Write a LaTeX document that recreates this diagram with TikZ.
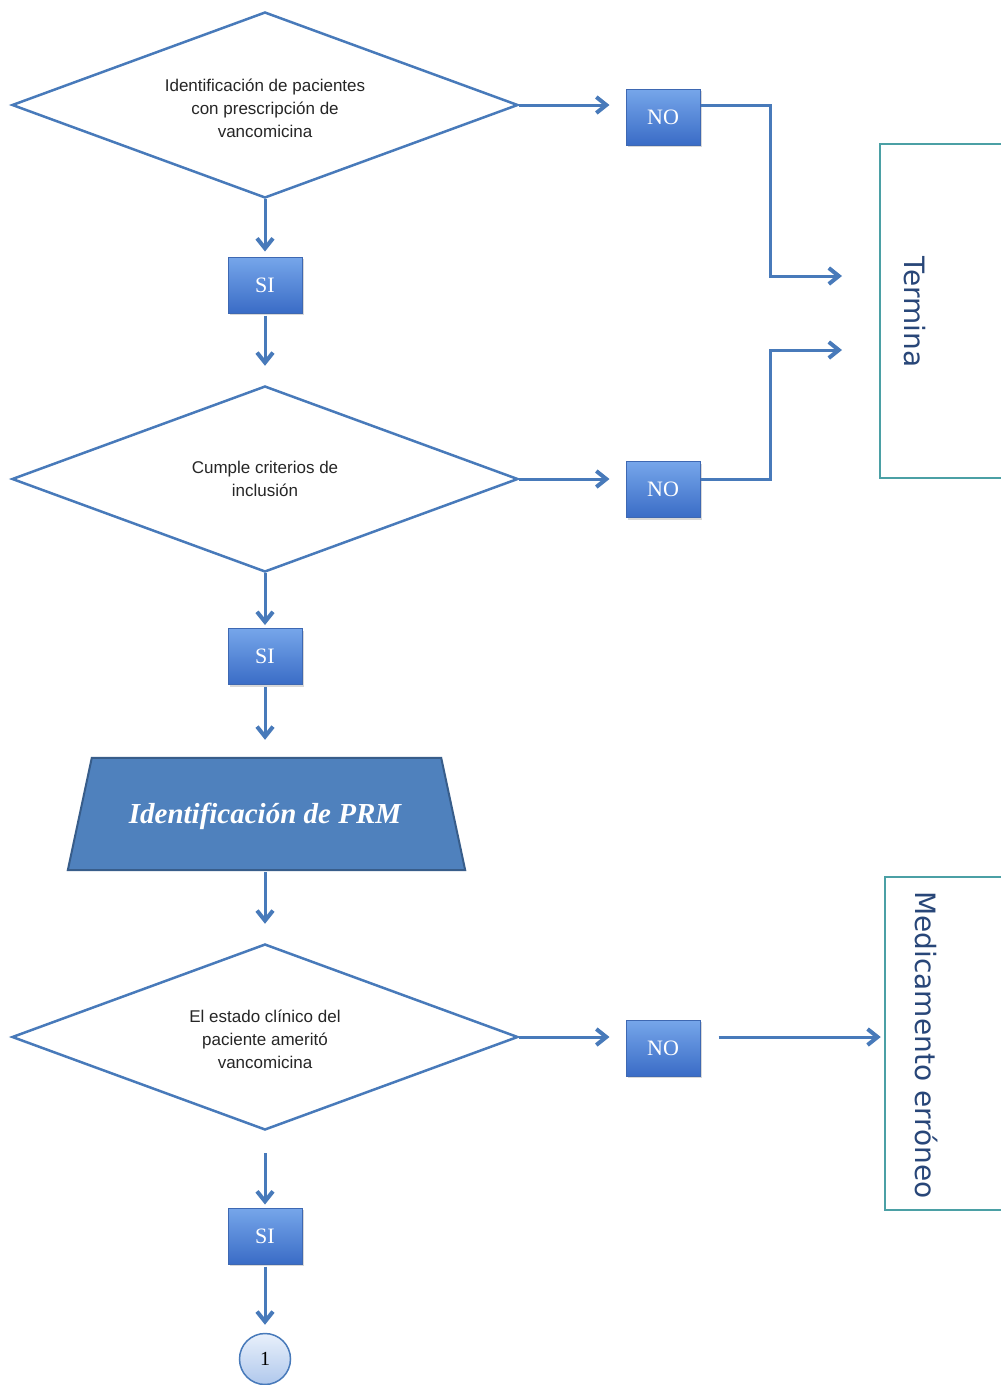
\documentclass[tikz,border=0pt]{standalone}
\usepackage{fontspec}
\setmainfont{Liberation Sans}
\newfontfamily\boxfont{Liberation Serif}
\newfontfamily\endfont{DejaVu Sans}
\usetikzlibrary{shapes.geometric,arrows.meta,shadows}

\definecolor{lineblue}{RGB}{72,122,186}
\definecolor{boxtop}{RGB}{118,166,234}
\definecolor{boxbot}{RGB}{58,108,198}
\definecolor{boxedge}{RGB}{62,104,178}
\definecolor{prmfill}{RGB}{79,129,189}
\definecolor{prmedge}{RGB}{56,93,138}
\definecolor{tealedge}{RGB}{75,160,165}
\definecolor{endtext}{RGB}{40,70,120}
\definecolor{circtop}{RGB}{232,240,251}
\definecolor{circbot}{RGB}{176,200,236}

\tikzset{
  decision/.style={diamond, draw=lineblue, line width=2.5pt, fill=white,
    aspect=2.72, minimum width=506pt, minimum height=186pt, inner sep=0pt},
  decisiontext/.style={align=center, font=\fontsize{17}{23}\selectfont, text=black!85},
  answer/.style={rectangle, draw=boxedge, line width=1pt,
    top color=boxtop, bottom color=boxbot,
    minimum width=74pt, minimum height=56pt, inner sep=0pt,
    text=white, font=\boxfont\fontsize{22}{22}\selectfont,
    drop shadow={shadow xshift=2pt, shadow yshift=-2pt, opacity=0.3}},
  processframe/.style={rectangle, minimum width=397pt, minimum height=112pt, inner sep=0pt},
  processshape/.style={draw=prmedge, line width=2pt, fill=prmfill},
  processtext/.style={text=white, font=\boxfont\bfseries\itshape\fontsize{29}{29}\selectfont},
  endbox/.style={rectangle, draw=tealedge, line width=2.5pt, inner sep=0pt},
  endlabel/.style={rotate=-90, text=endtext, font=\endfont\fontsize{28}{28}\selectfont},
  connector/.style={circle, draw=lineblue, line width=1.5pt,
    top color=circtop, bottom color=circbot, minimum size=51pt, inner sep=0pt,
    font=\boxfont\fontsize{20}{20}\selectfont},
  arr/.style={draw=lineblue, line width=3pt,
    -{Straight Barb[length=10pt,width=16pt,line width=4pt]}},
}

\begin{document}
\begin{tikzpicture}[x=1pt, y=-1pt]
  \useasboundingbox (0,0) rectangle (1001,1385);
  \fill[white] (0,0) rectangle (1001,1385);

  % end boxes (right edge runs off the page)
  \node[endbox, minimum width=140pt, minimum height=334pt] (termina) at (950,311) {};
  \node[endlabel] (terminaLabel) at (915,312) {Termina};
  \node[endbox, minimum width=140pt, minimum height=333pt] (med) at (955,1043.5) {};
  \node[endlabel] (medLabel) at (926,1045) {Medicamento erróneo};

  % main column
  \node[decision] (d1) at (265,105) {};
  \node[decisiontext] (d1text) at (265,108)
    {Identificación de pacientes\\con prescripción de\\vancomicina};
  \node[answer] (si1) at (265,285) {SI};
  \node[decision] (d2) at (265,479) {};
  \node[decisiontext] (d2text) at (265,479) {Cumple criterios de\\inclusión};
  \node[answer] (si2) at (265,656.5) {SI};

  % manual input block (trapezoid, wider at the bottom)
  \node[processframe] (prm) at (266.5,814) {};
  \filldraw[processshape] ([xshift=24pt]prm.north west) -- ([xshift=-24pt]prm.north east)
    -- (prm.south east) -- (prm.south west) -- cycle;
  \node[processtext] (prmtext) at (265,816) {Identificación de PRM};

  \node[decision] (d3) at (265,1037) {};
  \node[decisiontext] (d3text) at (265,1039)
    {El estado clínico del\\paciente ameritó\\vancomicina};
  \node[answer] (si3) at (265,1236) {SI};
  \node[connector] (c1) at (265,1359) {1};

  % negative answers
  \node[answer] (no1) at (663,117) {NO};
  \node[answer] (no2) at (663,489.5) {NO};
  \node[answer] (no3) at (663,1048) {NO};

  \coordinate (e1) at (842,276);
  \coordinate (e2) at (842,350);

  % vertical flow
  \draw[arr, shorten >=5pt] (d1.south) -- (si1.north);
  \draw[arr, shorten <=2pt, shorten >=19pt] (si1.south) -- (d2.north);
  \draw[arr, shorten >=3pt] (d2.south) -- (si2.north);
  \draw[arr, shorten <=2pt, shorten >=18pt] (si2.south) -- (si2.south |- prm.north);
  \draw[arr, shorten <=2pt, shorten >=19pt] (si2.south |- prm.south) -- (d3.north);
  \draw[arr, shorten <=22pt, shorten >=3pt] (d3.south) -- (si3.north);
  \draw[arr, shorten <=2pt, shorten >=8pt] (si3.south) -- (c1.north);

  % horizontal flow
  \draw[arr, shorten >=16pt] (d1.east) -- (no1.west |- d1.east);
  \draw[arr, shorten >=16pt] (d2.east) -- (no2.west |- d2.east);
  \draw[arr, shorten >=16pt] (d3.east) -- (no3.west |- d3.east);
  \draw[arr] (no1.east |- d1.east) -- ++(70,0) |- (e1);
  \draw[arr] (no2.east |- d2.east) -- ++(70,0) |- (e2);
  \draw[arr, shorten <=18pt, shorten >=3pt] (no3.east |- d3.east) -- (med.west |- d3.east);
\end{tikzpicture}
\end{document}
